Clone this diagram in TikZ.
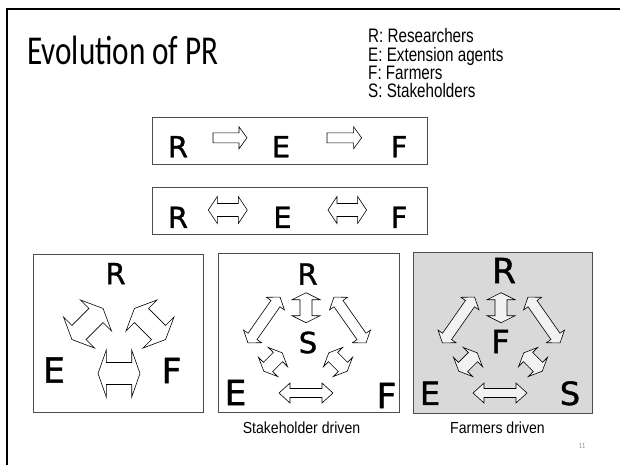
\documentclass[tikz,border=0pt]{standalone}
\usepackage{fontspec}
\setmainfont{Liberation Sans}
\newfontfamily\titlefont[FakeStretch=0.76]{Carlito}
\newfontfamily\legendfont[FakeStretch=0.78]{Liberation Sans}
\newfontfamily\captionfont[FakeStretch=0.88]{Liberation Sans}
\newfontfamily\letterfont[FakeBold=1.2]{DejaVu Sans}
\definecolor{boxline}{HTML}{4D4D4D}
\definecolor{panelgray}{HTML}{D9D9D9}
\definecolor{arrowpale}{HTML}{F2F2F2}
\newcommand\arrfill{white}
\tikzset{
  arrowshape/.style={draw=black, line width=0.6pt, line join=miter, fill=\arrfill},
  panel/.style={draw=boxline, line width=0.9pt},
  ltr/.style={inner sep=0pt, font=\letterfont\fontsize{29}{29}\selectfont},
  ltrmid/.style={inner sep=0pt, font=\letterfont\fontsize{32}{32}\selectfont},
  ltrbig/.style={inner sep=0pt, font=\letterfont\fontsize{34.5}{35}\selectfont},
  legend/.style={inner sep=0pt, anchor=base west, font=\legendfont\fontsize{19.5}{20}\selectfont},
  caption/.style={inner sep=0pt, anchor=base, font=\captionfont\fontsize{16}{16}\selectfont},
  % double-headed block arrow: half length, head length, half head width, half shaft width
  pics/darr/.style n args={4}{code={
    \draw[arrowshape] (-#1,0) -- (-#1+#2,-#3) -- (-#1+#2,-#4) -- (#1-#2,-#4)
      -- (#1-#2,-#3) -- (#1,0) -- (#1-#2,#3) -- (#1-#2,#4) -- (-#1+#2,#4)
      -- (-#1+#2,#3) -- cycle;}},
  % single-headed block arrow
  pics/sarr/.style n args={4}{code={
    \draw[arrowshape] (-#1,-#4) -- (#1-#2,-#4) -- (#1-#2,-#3) -- (#1,0)
      -- (#1-#2,#3) -- (#1-#2,#4) -- (-#1,#4) -- cycle;}},
}
\begin{document}
\begin{tikzpicture}[x=1pt, y=-1pt]
\useasboundingbox (0,0) rectangle (620,464);
\fill[white] (0,0) rectangle (620,464);

% slide frame
\draw[line width=2pt] (6.5,466) -- (6.5,8.5) -- (622,8.5);

% title and legend
\node[inner sep=0pt, anchor=base west, font=\titlefont\fontsize{41}{41}\selectfont]
  (title) at (27,64) {Evolution of PR};
\node[legend] (leg1) at (368,42.7) {R: Researchers};
\node[legend] (leg2) at (368,61) {E: Extension agents};
\node[legend] (leg3) at (368,79.3) {F: Farmers};
\node[legend] (leg4) at (368,97.3) {S: Stakeholders};

% linear model
\draw[panel] (152,117) rectangle (427,164);
\node[ltr] (r1) at (178,146.7) {R};
\node[ltr] (e1) at (281,146.7) {E};
\node[ltr] (f1) at (399,146.7) {F};
\pic at (230,137.8) {sarr={17}{8}{11}{5}};
\pic at (344.3,137.8) {sarr={17.3}{8}{11}{5}};

% two-way linear model
\draw[panel] (152,187) rectangle (427,234);
\node[ltr] (r2) at (178,217.3) {R};
\node[ltr] (e2) at (282.5,217.3) {E};
\node[ltr] (f2) at (399,217.3) {F};
\pic at (227.8,210) {darr={19.5}{9}{13.5}{6.5}};
\pic at (347.3,210) {darr={19.3}{9}{13.5}{6.5}};

% triangle of R, E, F
\draw[panel] (33,254) rectangle (203,412);
\node[ltr] (r3) at (115.5,273.5) {R};
\node[ltrbig] (e3) at (54,370) {E};
\node[ltrbig] (f3) at (171.5,370.5) {F};
\pic at (119,373.5) {darr={21}{8.3}{23.5}{11}};
\pic[rotate=45] at (87.5,324) {darr={22}{10}{22}{10}};
\pic[rotate=-45] at (150,324) {darr={22}{10}{22}{10}};

% stakeholder driven
\draw[panel] (218,253) rectangle (399,412);
\node[ltr] (r4) at (307.5,274) {R};
\node[ltr] (s4) at (308,342.5) {S};
\node[ltrbig] (e4) at (235.5,392.5) {E};
\node[ltrbig] (f4) at (386.5,395.5) {F};
\pic[rotate=90] at (306,307.7) {darr={15}{7}{14}{6}};
\pic[rotate=55] at (264,320) {darr={28}{8}{11}{5.5}};
\pic[rotate=-55] at (350,320) {darr={28}{8}{11}{5.5}};
\pic[rotate=45] at (273,362) {darr={13}{6}{13.5}{6.5}};
\pic[rotate=-45] at (338,362) {darr={13}{6}{13.5}{6.5}};
\pic at (306,393) {darr={27}{11}{10}{4.5}};
\node[caption] (cap1) at (301.5,433.3) {Stakeholder driven};

% farmers driven
\draw[panel, fill=panelgray] (413,252) rectangle (592,413);
\node[ltrbig] (r5) at (504,270.5) {R};
\node[ltrmid] (f5) at (500.5,341.5) {F};
\node[ltrmid] (e5) at (430,393.3) {E};
\node[ltrmid] (s5) at (570,393.3) {S};
\begin{scope}
\renewcommand\arrfill{arrowpale}
\pic[rotate=90] at (501,307.7) {darr={15}{7}{14}{6}};
\pic[rotate=55] at (458.5,320) {darr={28}{8}{11}{5.5}};
\pic[rotate=-55] at (544,320) {darr={28}{8}{11}{5.5}};
\pic[rotate=45] at (468,362) {darr={13}{6}{13.5}{6.5}};
\pic[rotate=-45] at (533,362) {darr={13}{6}{13.5}{6.5}};
\pic at (500,393) {darr={27}{11}{10}{4.5}};
\end{scope}
\node[caption] (cap2) at (497.5,433.3) {Farmers driven};

% page number
\node[inner sep=0pt, text=black!45, font=\titlefont\fontsize{8}{8}\selectfont] (pg) at (582,446) {11};
\end{tikzpicture}
\end{document}
